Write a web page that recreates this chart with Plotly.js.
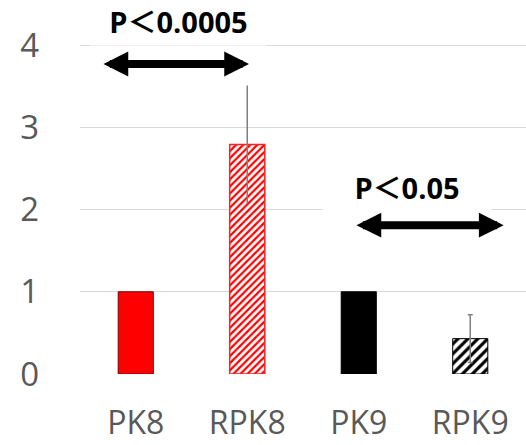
<!DOCTYPE html>
<html>
<head>
<meta charset="utf-8">
<script src="https://cdn.plot.ly/plotly-3.0.1.min.js"></script>
<style>html,body{margin:0;padding:0;background:#fff;}#chart{width:526px;height:445px;}</style>
</head>
<body>
<div id="chart"></div>
<script>
// Data
var categories = ['PK8', 'RPK8', 'PK9', 'RPK9'];
var values = [1, 2.79, 1, 0.43];
var errors = [0, 0.72, 0, 0.29];
var yTicks = [0, 1, 2, 3, 4];
var pLabels = ['P＜0.0005', 'P＜0.05'];

// Styles
var fills = ['#ff0000', '#ffffff', '#000000', '#ffffff'];
var lines = ['#7a0000', '#ff2020', '#000000', '#000000'];
var lineW = [1, 1.5, 1, 1];
var patterns = ['', '/', '', '/'];
var patColors = ['#ff0000', '#ff0000', '#000000', '#000000'];
var patSize = [5, 5, 5, 7];
var patSolid = [0.4, 0.45, 0.4, 0.45];
var errWidth = [0, 0, 0, 2.5];

var traces = categories.map(function (c, i) {
  return {
    type: 'bar',
    x: [c],
    y: [values[i]],
    width: 0.315,
    marker: {
      color: fills[i],
      line: {color: lines[i], width: lineW[i]},
      pattern: {shape: patterns[i], fgcolor: patColors[i], bgcolor: '#ffffff', size: patSize[i], solidity: patSolid[i], fillmode: 'replace'}
    },
    error_y: errors[i] > 0 ? {type: 'data', array: [errors[i]], visible: true, color: '#7f7f7f', thickness: 1.5, width: errWidth[i]} : {visible: false},
    showlegend: false,
    hoverinfo: 'skip'
  };
});

var font = 'Open Sans, Noto Sans, sans-serif';
var pFont = 'Open Sans, Noto Sans CJK JP, sans-serif';

var layout = {
  width: 526, height: 445,
  margin: {l: 80, r: 0, t: 4, b: 71},
  paper_bgcolor: '#ffffff', plot_bgcolor: '#ffffff',
  barmode: 'overlay',
  xaxis: {
    type: 'category', categoryorder: 'array', categoryarray: categories,
    range: [-0.5, 3.5],
    showgrid: false, zeroline: false, showline: false, ticks: '',
    tickfont: {family: font, size: 32, color: '#595959'},
    ticklabelstandoff: 27
  },
  yaxis: {
    range: [0, 4.5],
    tickvals: yTicks, ticktext: yTicks.map(String),
    showgrid: true, gridcolor: '#d9d9d9', gridwidth: 1,
    zeroline: false, showline: false, ticks: '',
    tickfont: {family: font, size: 33, color: '#595959'},
    ticklabelstandoff: 40
  },
  annotations: [
    {xref: 'x', yref: 'y', x: 0.38, y: 4.29, text: '<b>' + pLabels[0] + '</b>', showarrow: false,
     font: {family: pFont, size: 29, color: '#000000'}, bgcolor: '#ffffff', width: 175, height: 48, borderpad: 0},
    {xref: 'x', yref: 'y', x: 2.43, y: 2.27, text: '<b>' + pLabels[1] + '</b>', showarrow: false,
     font: {family: pFont, size: 29, color: '#000000'}, bgcolor: '#ffffff', width: 168, height: 48, borderpad: 0},
    {xref: 'x', yref: 'y', axref: 'x', ayref: 'y', x: 1.016, y: 3.77, ax: -0.303, ay: 3.77, text: '',
     showarrow: true, arrowside: 'end+start', arrowhead: 2, startarrowhead: 2, arrowsize: 0.62, startarrowsize: 0.62, arrowwidth: 8, arrowcolor: '#000000', standoff: 0, startstandoff: 0},
    {xref: 'x', yref: 'y', axref: 'x', ayref: 'y', x: 3.30, y: 1.81, ax: 1.966, ay: 1.81, text: '',
     showarrow: true, arrowside: 'end+start', arrowhead: 2, startarrowhead: 2, arrowsize: 0.62, startarrowsize: 0.62, arrowwidth: 8, arrowcolor: '#000000', standoff: 0, startstandoff: 0}
  ]
};

Plotly.newPlot('chart', traces, layout, {staticPlot: true, displayModeBar: false});
</script>
</body>
</html>
